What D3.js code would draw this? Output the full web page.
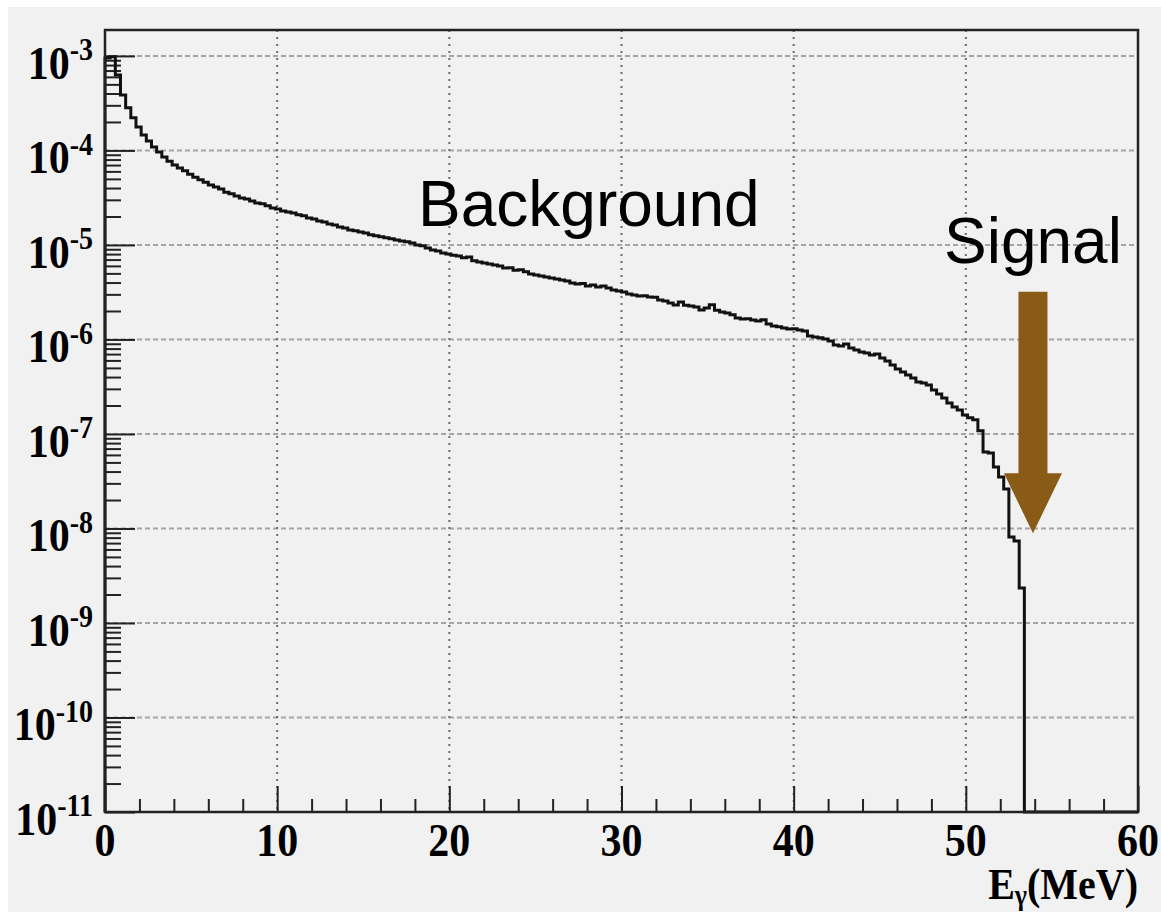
<!DOCTYPE html>
<html>
<head>
<meta charset="utf-8">
<script src="https://cdn.jsdelivr.net/npm/d3@7"></script>
<style>
  html, body { margin: 0; padding: 0; background: #ffffff; }
  svg { display: block; }
</style>
</head>
<body>
<svg id="chart" width="1161" height="912"></svg>
<script>
// Photon energy spectrum: histogram of 0.3 MeV bins starting at 0 MeV
const binWidth = 0.3;
const counts = [
  9.5e-4, 9.8e-4, 6.3e-4, 3.87e-4, 2.82e-4, 2.21e-4, 1.77e-4, 1.46e-4, 1.26e-4, 1.09e-4,
  9.6e-5, 8.5e-5, 7.7e-5, 7.0e-5, 6.5e-5, 6.1e-5, 5.6e-5, 5.2e-5, 4.9e-5, 4.6e-5,
  4.3e-5, 4.1e-5, 3.9e-5, 3.6e-5, 3.47e-5, 3.30e-5, 3.14e-5, 3.07e-5, 2.92e-5, 2.78e-5,
  2.72e-5, 2.59e-5, 2.46e-5, 2.40e-5, 2.29e-5, 2.23e-5, 2.18e-5, 2.08e-5, 2.03e-5, 1.93e-5,
  1.88e-5, 1.79e-5, 1.75e-5, 1.67e-5, 1.63e-5, 1.55e-5, 1.51e-5, 1.44e-5, 1.41e-5, 1.37e-5,
  1.34e-5, 1.28e-5, 1.25e-5, 1.22e-5, 1.19e-5, 1.16e-5, 1.13e-5, 1.10e-5, 1.08e-5, 1.05e-5,
  1.00e-5, 9.8e-6, 9.3e-6, 8.85e-6, 8.6e-6, 8.2e-6, 8.0e-6, 7.8e-6, 7.65e-6, 7.3e-6,
  7.45e-6, 6.8e-6, 6.6e-6, 6.45e-6, 6.3e-6, 6.15e-6, 6.0e-6, 5.7e-6, 5.75e-6, 5.4e-6,
  5.45e-6, 5.2e-6, 4.93e-6, 4.81e-6, 4.70e-6, 4.58e-6, 4.48e-6, 4.37e-6, 4.26e-6, 4.16e-6,
  3.96e-6, 3.87e-6, 3.9e-6, 3.68e-6, 3.77e-6, 3.59e-6, 3.68e-6, 3.51e-6, 3.34e-6, 3.26e-6,
  3.18e-6, 3.03e-6, 2.96e-6, 2.89e-6, 2.9e-6, 2.82e-6, 2.8e-6, 2.62e-6, 2.55e-6, 2.43e-6,
  2.32e-6, 2.49e-6, 2.3e-6, 2.26e-6, 2.21e-6, 2.05e-6, 2.15e-6, 2.33e-6, 2.04e-6, 1.95e-6,
  1.91e-6, 1.82e-6, 1.69e-6, 1.65e-6, 1.66e-6, 1.61e-6, 1.57e-6, 1.62e-6, 1.46e-6, 1.39e-6,
  1.36e-6, 1.32e-6, 1.29e-6, 1.30e-6, 1.26e-6, 1.23e-6, 1.09e-6, 1.06e-6, 1.04e-6, 1.01e-6,
  9.6e-7, 8.75e-7, 8.5e-7, 8.96e-7, 8.13e-7, 7.74e-7, 7.38e-7, 7.2e-7, 6.85e-7, 7.03e-7,
  6.37e-7, 5.92e-7, 5.37e-7, 4.87e-7, 4.53e-7, 4.21e-7, 3.91e-7, 3.55e-7, 3.46e-7, 3.30e-7,
  2.92e-7, 2.65e-7, 2.40e-7, 2.13e-7, 1.93e-7, 1.79e-7, 1.59e-7, 1.48e-7, 1.41e-7, 1.08e-7,
  6.45e-8, 6.3e-8, 4.48e-8, 3.51e-8, 2.62e-8, 8.13e-9, 7.38e-9, 2.35e-9
];

// Axis ranges and tick values
const xRange = [0, 60];
const yRange = [1e-11, 1.88e-3];
const xMajorTicks = [0, 10, 20, 30, 40, 50, 60];
const xMinorTicks = [2, 4, 6, 8, 12, 14, 16, 18, 22, 24, 26, 28, 32, 34, 36, 38, 42, 44, 46, 48, 52, 54, 56, 58];
const yExponents = [-11, -10, -9, -8, -7, -6, -5, -4, -3];
const yMinorMantissas = [2, 3, 4, 5, 6, 7, 8, 9];
const xTitle = { main: "E", sub: "\u03b3", unit: "(MeV)" };

// Annotations
const backgroundLabel = { text: "Background", x: 28.1, y: 1.6e-5 };
const signalLabel = { text: "Signal", x: 53.9, y: 6.5e-6 };
const signalArrow = { x: 53.9, from: 3.2e-6, to: 8.9e-9 };

const svg = d3.select("#chart");
const W = 1161, H = 912;
const plot = { left: 105, right: 1138, top: 30, bottom: 812 };

// figure background
svg.append("rect").attr("x", 8).attr("y", 7).attr("width", W - 8).attr("height", H - 7).attr("fill", "#f1f1f1");

const x = d3.scaleLinear().domain(xRange).range([plot.left, plot.right]);
const y = d3.scaleLog().domain(yRange).range([plot.bottom, plot.top]);

const majorY = yExponents.map(e => Math.pow(10, e));
const minorY = [];
yExponents.forEach(e => yMinorMantissas.forEach(m => {
  const v = m * Math.pow(10, e);
  if (v <= yRange[1]) minorY.push(v);
}));

// grid
const grid = svg.append("g");
grid.selectAll("line.hg").data(majorY.filter(v => v > yRange[0])).join("line")
  .attr("x1", plot.left).attr("x2", plot.right)
  .attr("y1", d => y(d)).attr("y2", d => y(d))
  .attr("stroke", "#a5a5a5").attr("stroke-width", 2).attr("stroke-dasharray", "5,3");
grid.selectAll("line.vg").data(xMajorTicks.filter(v => v > xRange[0] && v < xRange[1])).join("line")
  .attr("x1", d => x(d)).attr("x2", d => x(d))
  .attr("y1", plot.top).attr("y2", plot.bottom)
  .attr("stroke", "#6c6c6c").attr("stroke-width", 2).attr("stroke-dasharray", "2,5");

// y axis ticks (drawn inward)
const yMinorAxis = d3.axisLeft(y).tickValues(minorY).tickSize(-16).tickFormat("");
const yMajorAxis = d3.axisLeft(y).tickValues(majorY).tickSize(-30).tickFormat("");
[yMinorAxis, yMajorAxis].forEach(ax => {
  const g = svg.append("g").attr("transform", `translate(${plot.left},0)`).call(ax);
  g.select(".domain").remove();
  g.selectAll(".tick line").attr("stroke", "#222").attr("stroke-width", 2);
});

// x axis ticks (drawn inward)
const xMinorAxis = d3.axisBottom(x).tickValues(xMinorTicks).tickSize(-13).tickFormat("");
const xMajorAxis = d3.axisBottom(x).tickValues(xMajorTicks).tickSize(-26).tickFormat("");
[xMinorAxis, xMajorAxis].forEach(ax => {
  const g = svg.append("g").attr("transform", `translate(0,${plot.bottom})`).call(ax);
  g.select(".domain").remove();
  g.selectAll(".tick line").attr("stroke", "#222").attr("stroke-width", 2);
});

// tick labels
const serif = "'Liberation Serif', 'Times New Roman', Times, serif";
const stretch = 1.1;
yExponents.forEach(e => {
  const t = svg.append("text")
    .attr("transform", `translate(93,${y(Math.pow(10, e)) + 23}) scale(1,${stretch})`)
    .attr("text-anchor", "end")
    .attr("font-family", serif).attr("font-weight", "bold").attr("fill", "#000");
  t.append("tspan").attr("font-size", 42).text("10");
  t.append("tspan").attr("font-size", 28).attr("dy", -17).text("-" + Math.abs(e));
});
xMajorTicks.forEach(v => {
  svg.append("text")
    .attr("transform", `translate(${x(v)},${plot.bottom + 44}) scale(1,${stretch})`)
    .attr("text-anchor", "middle")
    .attr("font-family", serif).attr("font-weight", "bold").attr("font-size", 42)
    .attr("fill", "#000").text(v);
});

// axis title
const tt = svg.append("text")
  .attr("transform", `translate(${plot.right},${plot.bottom + 87}) scale(1,${stretch})`)
  .attr("text-anchor", "end")
  .attr("font-family", serif).attr("font-weight", "bold").attr("fill", "#000");
tt.append("tspan").attr("font-size", 40).text(xTitle.main);
tt.append("tspan").attr("font-size", 26).attr("dy", 5).text(xTitle.sub);
tt.append("tspan").attr("font-size", 40).attr("dy", -5).text(xTitle.unit);

// histogram outline
const edges = counts.map((c, i) => i * binWidth);
let d = `M${x(0)},${y(yRange[0])}`;
counts.forEach((c, i) => {
  const lo = x(edges[i]), hi = x(edges[i] + binWidth), yy = y(c);
  d += `L${lo},${yy}L${hi},${yy}`;
});
d += `L${x(counts.length * binWidth)},${y(yRange[0])}L${x(xRange[1])},${y(yRange[0])}`;
svg.append("path").attr("d", d).attr("fill", "none")
  .attr("stroke", "#111").attr("stroke-width", 3).attr("stroke-linejoin", "miter");

// frame
svg.append("rect")
  .attr("x", plot.left).attr("y", plot.top)
  .attr("width", plot.right - plot.left).attr("height", plot.bottom - plot.top)
  .attr("fill", "none").attr("stroke", "#222").attr("stroke-width", 2.5);

// annotations
const sans = "'Liberation Sans', Arial, Helvetica, sans-serif";
svg.append("text").attr("x", x(backgroundLabel.x)).attr("y", y(backgroundLabel.y))
  .attr("text-anchor", "middle").attr("font-family", sans).attr("font-size", 64)
  .attr("fill", "#000").text(backgroundLabel.text);
svg.append("text").attr("x", x(signalLabel.x)).attr("y", y(signalLabel.y))
  .attr("text-anchor", "middle").attr("font-family", sans).attr("font-size", 64)
  .attr("fill", "#000").text(signalLabel.text);

const ax = x(signalArrow.x), aTop = y(signalArrow.from), aTip = y(signalArrow.to);
const shaftHalf = 14.5, headHalf = 29, headLen = 60;
svg.append("path")
  .attr("d", `M${ax - shaftHalf},${aTop}L${ax + shaftHalf},${aTop}L${ax + shaftHalf},${aTip - headLen}` +
             `L${ax + headHalf},${aTip - headLen}L${ax},${aTip}L${ax - headHalf},${aTip - headLen}` +
             `L${ax - shaftHalf},${aTip - headLen}Z`)
  .attr("fill", "#8a5b17");
</script>
</body>
</html>
